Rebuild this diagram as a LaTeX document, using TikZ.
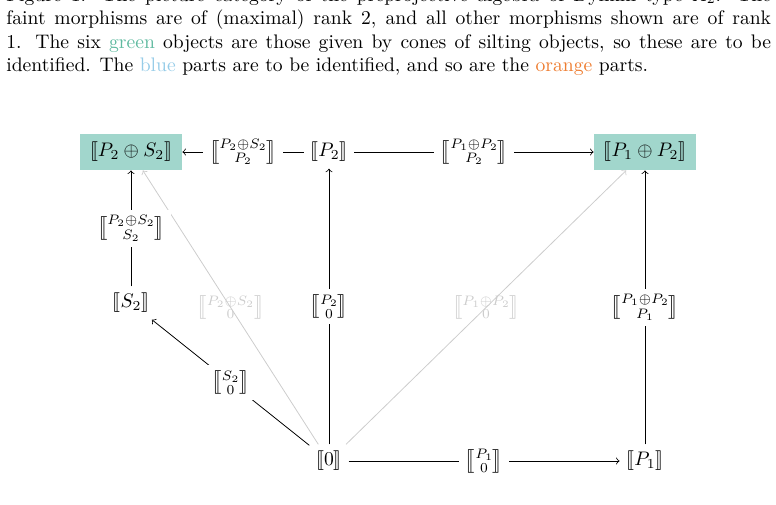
\documentclass[tikz,border=0pt]{standalone}
\usepackage{amsmath}
\usepackage{stmaryrd}
\definecolor{silt}{RGB}{161,214,204}
\definecolor{siltword}{RGB}{96,186,160}
\definecolor{blueword}{RGB}{150,204,232}
\definecolor{orangeword}{RGB}{238,125,49}
\newcommand{\obj}[1]{$\llbracket #1\rrbracket$}
\newcommand{\mor}[2]{$\left\llbracket\!\begin{smallmatrix}#1\\#2\end{smallmatrix}\!\right\rrbracket$}

\begin{document}
\begin{tikzpicture}[x=0.51pt, y=-0.51pt,
  every node/.style = {inner sep=3.3pt},
  silting/.style = {fill=silt, minimum width=52pt, minimum height=18.4pt, inner sep=0pt},
  lbl/.style = {fill=white, inner sep=3pt},
  faint/.style = {draw=black!20},
  faintlbl/.style = {text=black!20, inner sep=3pt}]
  \useasboundingbox (0,0) rectangle (776,504);
  \node[anchor=base west, text width=390pt, align=justify, inner sep=0pt] (caption) at (6,1)
    {Figure 1. The picture category of the preprojective algebra of Dynkin type $A_2$. The\linebreak
     faint morphisms are of (maximal) rank 2, and all other morphisms shown are of rank\linebreak
     1. The six \textcolor{siltword}{green} objects are those given by cones of silting objects, so these are to be\linebreak
     identified. The \textcolor{blueword}{blue} parts are to be identified, and so are the \textcolor{orangeword}{orange} parts.};
  % objects
  \node[silting] (P2S2) at (131,152) {\obj{P_2\oplus S_2}};
  \node (P2) at (329,152) {\obj{P_2}};
  \node[silting] (P1P2) at (645,152) {\obj{P_1\oplus P_2}};
  \node (S2) at (131,303) {\obj{S_2}};
  \node (Z) at (329,461) {\obj{0}};
  \node (P1) at (645,461) {\obj{P_1}};
  % rank 2
  \draw[faint,->] (Z) -- node[faintlbl] (ZP2S2) {\mor{P_2\oplus S_2}{0}} (P2S2);
  \draw[faint,->] (Z) -- node[faintlbl] (ZP1P2) {\mor{P_1\oplus P_2}{0}} (P1P2);
  % rank 1
  \draw[->] (P2) -- node[lbl] (P2P2S2) {\mor{P_2\oplus S_2}{P_2}} (P2S2);
  \draw[->] (P2) -- node[lbl] (P2P1P2) {\mor{P_1\oplus P_2}{P_2}} (P1P2);
  \draw[->] (S2) -- node[lbl] (S2P2S2) {\mor{P_2\oplus S_2}{S_2}} (P2S2);
  \draw[->] (Z) -- node[lbl] (ZS2) {\mor{S_2}{0}} (S2);
  \draw[->] (Z) -- node[lbl] (ZP2) {\mor{P_2}{0}} (P2);
  \draw[->] (Z) -- node[lbl] (ZP1) {\mor{P_1}{0}} (P1);
  \draw[->] (P1) -- node[lbl] (P1P1P2) {\mor{P_1\oplus P_2}{P_1}} (P1P2);
\end{tikzpicture}
\end{document}
